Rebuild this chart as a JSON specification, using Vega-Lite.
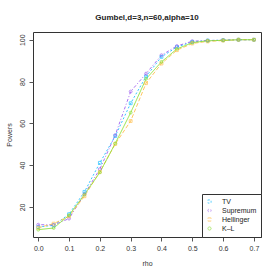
{
  "$schema": "https://vega.github.io/schema/vega-lite/v6.json",
  "width": 228,
  "height": 205,
  "autosize": "none",
  "padding": {"left": 33, "top": 32, "right": 17, "bottom": 41},
  "background": "white",
  "title": {"text": "Gumbel,d=3,n=60,alpha=10", "fontSize": 8, "font": "Liberation Sans", "fontWeight": "bold", "offset": 10, "color": "#222"},
  "config": {
    "view": {"stroke": "#333", "strokeWidth": 1},
    "font": "Liberation Sans",
    "axis": {"labelFont": "Liberation Sans", "titleFont": "Liberation Sans", "labelFontSize": 7, "titleFontSize": 7, "titleFontWeight": "normal", "labelColor": "#333", "titleColor": "#333", "grid": false, "domain": false, "tickColor": "#555", "tickSize": 4}
  },
  "data": {"values": [
    {"rho":0,"s":"TV","p":10.4},{"rho":0.05,"s":"TV","p":11.2},{"rho":0.1,"s":"TV","p":16.5},{"rho":0.15,"s":"TV","p":27.2},{"rho":0.2,"s":"TV","p":41.1},{"rho":0.25,"s":"TV","p":53.9},{"rho":0.3,"s":"TV","p":69.6},{"rho":0.35,"s":"TV","p":82.4},{"rho":0.4,"s":"TV","p":91.8},{"rho":0.45,"s":"TV","p":96.5},{"rho":0.5,"s":"TV","p":99.0},{"rho":0.55,"s":"TV","p":99.6},{"rho":0.6,"s":"TV","p":99.8},{"rho":0.65,"s":"TV","p":100},{"rho":0.7,"s":"TV","p":100},
    {"rho":0,"s":"Supremum","p":11.5},{"rho":0.05,"s":"Supremum","p":11.4},{"rho":0.1,"s":"Supremum","p":14.4},{"rho":0.15,"s":"Supremum","p":26.1},{"rho":0.2,"s":"Supremum","p":38.1},{"rho":0.25,"s":"Supremum","p":54.4},{"rho":0.3,"s":"Supremum","p":75.2},{"rho":0.35,"s":"Supremum","p":83.8},{"rho":0.4,"s":"Supremum","p":92.6},{"rho":0.45,"s":"Supremum","p":97.0},{"rho":0.5,"s":"Supremum","p":99.3},{"rho":0.55,"s":"Supremum","p":99.6},{"rho":0.6,"s":"Supremum","p":99.8},{"rho":0.65,"s":"Supremum","p":100},{"rho":0.7,"s":"Supremum","p":100},
    {"rho":0,"s":"Hellinger","p":10.0},{"rho":0.05,"s":"Hellinger","p":12.0},{"rho":0.1,"s":"Hellinger","p":15.5},{"rho":0.15,"s":"Hellinger","p":25.1},{"rho":0.2,"s":"Hellinger","p":36.8},{"rho":0.25,"s":"Hellinger","p":50.1},{"rho":0.3,"s":"Hellinger","p":61.1},{"rho":0.35,"s":"Hellinger","p":79.2},{"rho":0.4,"s":"Hellinger","p":88.6},{"rho":0.45,"s":"Hellinger","p":95.0},{"rho":0.5,"s":"Hellinger","p":98.2},{"rho":0.55,"s":"Hellinger","p":99.2},{"rho":0.6,"s":"Hellinger","p":99.6},{"rho":0.65,"s":"Hellinger","p":100},{"rho":0.7,"s":"Hellinger","p":100},
    {"rho":0,"s":"K\u2013L","p":9.1},{"rho":0.05,"s":"K\u2013L","p":9.9},{"rho":0.1,"s":"K\u2013L","p":16.0},{"rho":0.15,"s":"K\u2013L","p":25.9},{"rho":0.2,"s":"K\u2013L","p":36.5},{"rho":0.25,"s":"K\u2013L","p":50.4},{"rho":0.3,"s":"K\u2013L","p":65.1},{"rho":0.35,"s":"K\u2013L","p":81.3},{"rho":0.4,"s":"K\u2013L","p":89.4},{"rho":0.45,"s":"K\u2013L","p":95.6},{"rho":0.5,"s":"K\u2013L","p":98.6},{"rho":0.55,"s":"K\u2013L","p":99.5},{"rho":0.6,"s":"K\u2013L","p":99.7},{"rho":0.65,"s":"K\u2013L","p":100},{"rho":0.7,"s":"K\u2013L","p":100}
  ]},
  "encoding": {
    "x": {"field": "rho", "type": "quantitative", "scale": {"domain": [-0.017, 0.723], "nice": false, "zero": false},
      "axis": {"values": [0,0.1,0.2,0.3,0.4,0.5,0.6,0.7], "format": ".1f", "title": "rho", "labelPadding": 3, "titlePadding": 8}},
    "y": {"field": "p", "type": "quantitative", "scale": {"domain": [5.6, 103.7], "nice": false, "zero": false},
      "axis": {"values": [20,40,60,80,100], "title": "Powers", "labelAngle": -90, "labelAlign": "center", "labelBaseline": "bottom", "labelPadding": 4, "titlePadding": 6}},
    "color": {"field": "s", "type": "nominal", "sort": ["TV","Supremum","Hellinger","K\u2013L"],
      "scale": {"domain": ["TV","Supremum","Hellinger","K\u2013L"], "range": ["#1EC0FF","#A060F0","#FFC050","#88E030"]},
      "legend": {"title": null, "orient": "bottom-right", "offset": 0, "strokeColor": "#333", "fillColor": "white", "padding": 4, "labelFontSize": 7, "labelFont": "Liberation Sans", "labelColor": "#222", "symbolSize": 10, "symbolStrokeWidth": 1, "symbolDash": [], "rowPadding": 0, "labelOffset": 9}}
  },
  "layer": [
    {"mark": {"type": "line", "strokeWidth": 0.9},
     "encoding": {"strokeDash": {"field": "s", "type": "nominal", "scale": {"domain": ["TV","Supremum","Hellinger","K\u2013L"], "range": [[2,2],[1,2,3,2],[4,2],[1,0]]}, "legend": null}}},
    {"mark": {"type": "point", "filled": false, "size": 8, "strokeWidth": 1},
     "encoding": {"shape": {"field": "s", "type": "nominal", "scale": {"domain": ["TV","Supremum","Hellinger","K\u2013L"], "range": ["square","circle","square","circle"]}, "legend": {"title": null}}}}
  ]
}
